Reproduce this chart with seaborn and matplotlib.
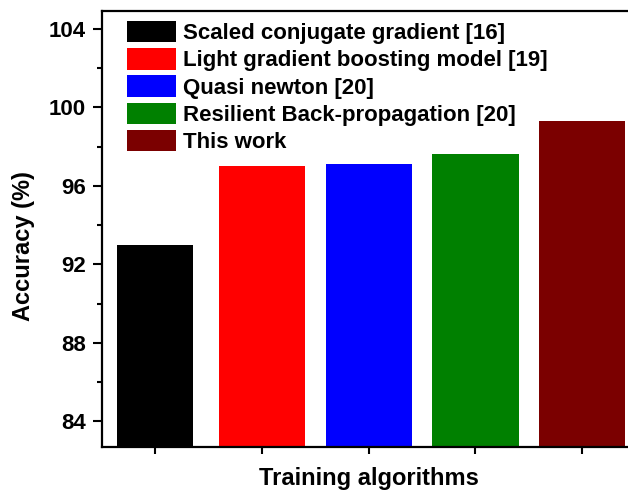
import matplotlib
matplotlib.use("Agg")
import matplotlib.pyplot as plt
from matplotlib.ticker import MultipleLocator
import seaborn as sns

# Data
algorithms = [
    "Scaled conjugate gradient [16]",
    "Light gradient boosting model [19]",
    "Quasi newton [20]",
    "Resilient Back-propagation [20]",
    "This work",
]
accuracy = [93.0, 97.0, 97.13, 97.6, 99.28]
bar_colors = ["#000000", "#FF0000", "#0000FF", "#008000", "#7B0000"]
y_ticks = [84, 88, 92, 96, 100, 104]

sns.set_style("ticks")
plt.rcParams["font.family"] = ["Liberation Sans", "DejaVu Sans"]
plt.rcParams["font.weight"] = "bold"
for key in ["text.color", "axes.labelcolor", "xtick.color", "ytick.color", "axes.edgecolor"]:
    plt.rcParams[key] = "black"

fig = plt.figure(figsize=(6.28, 4.93), dpi=100)
ax = fig.add_axes([0.1624, 0.0933, 0.8496, 0.8844])

sns.barplot(x=algorithms, y=accuracy, hue=algorithms, palette=bar_colors,
            width=0.81, linewidth=0, saturation=1, legend=False, ax=ax)

# first bar is a bit narrower in the original
p = ax.patches[0]
c = p.get_x() + p.get_width() / 2
p.set_width(0.71)
p.set_x(c - 0.355)

ax.set_xlim(-0.5, 4.5)
ax.set_ylim(82.7, 104.9)
ax.set_yticks(y_ticks)
ax.yaxis.set_minor_locator(MultipleLocator(2))
ax.set_xticklabels([])

ax.tick_params(axis="y", which="major", direction="out", length=6.5, width=1.5,
               labelsize=16, pad=5, left=True, right=False)
ax.tick_params(axis="y", which="minor", direction="out", length=3.6, width=1.5,
               left=True, right=False)
ax.tick_params(axis="x", which="major", direction="out", length=5, width=1.5,
               bottom=True, top=False)
for lab in ax.get_yticklabels():
    lab.set_fontweight("bold")

for s in ax.spines.values():
    s.set_linewidth(1.6)
    s.set_color("black")

ax.set_xlabel("Training algorithms", fontsize=17, fontweight="bold", labelpad=6)
ax.set_ylabel("Accuracy (%)", fontsize=17, fontweight="bold")
ax.yaxis.set_label_coords(-0.1256, 0.461)

handles = [plt.Rectangle((0, 0), 1, 1, color=col, linewidth=0) for col in bar_colors]
ax.legend(handles, algorithms, loc="upper left", bbox_to_anchor=(0.047, 0.977),
          frameon=False, borderpad=0, borderaxespad=0,
          handlelength=2.2, handleheight=1.1, labelspacing=0.18, handletextpad=0.3,
          prop={"weight": "bold", "size": 16})

fig.savefig("out.png", dpi=100)
